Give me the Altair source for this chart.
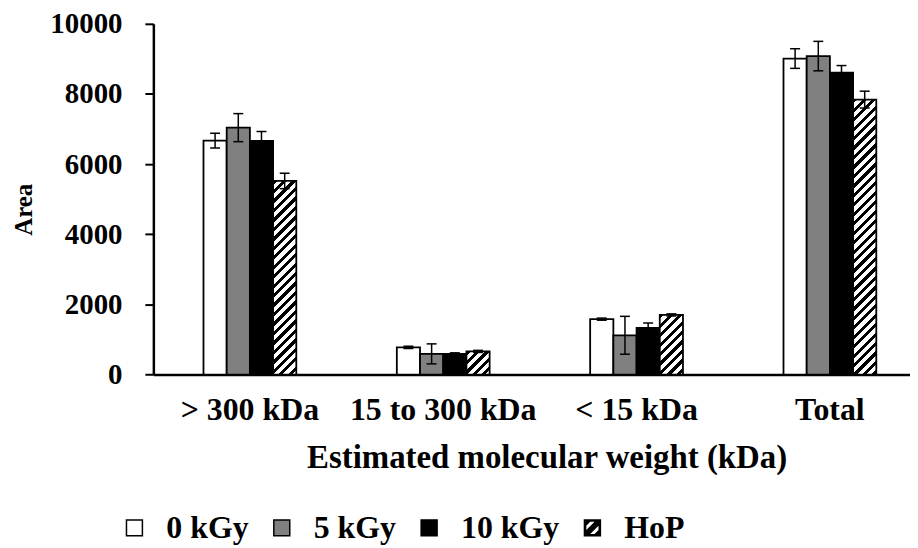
import altair as alt
import pandas as pd

# ---------------- data ----------------
categories = ["> 300 kDa", "15 to 300 kDa", "< 15 kDa", "Total"]
series = ["0 kGy", "5 kGy", "10 kGy", "HoP"]
values_0kGy = [6670, 775, 1580, 9010]
values_5kGy = [7040, 590, 1120, 9080]
values_10kGy = [6660, 590, 1330, 8610]
values_HoP = [5520, 660, 1700, 7840]
err_0kGy = [210, 30, 30, 280]
err_5kGy = [400, 285, 540, 420]
err_10kGy = [270, 30, 140, 200]
err_HoP = [220, 30, 30, 240]
y_ticks = [0, 2000, 4000, 6000, 8000, 10000]
series_fills = ["white", "#808080", "black"]          # solid series
legend_fills = ["white", "#808080", "black", "black"]

vals = [values_0kGy, values_5kGy, values_10kGy, values_HoP]
errs = [err_0kGy, err_5kGy, err_10kGy, err_HoP]
rows = []
for s, vs, es in zip(series, vals, errs):
    for c, v, e in zip(categories, vs, es):
        rows.append({"cat": c, "series": s, "value": v, "lo": v - e, "hi": v + e})
df = pd.DataFrame(rows)

# ---------------- geometry / style ----------------
W = 760
H = 352.3
YMAX = 10000
PI = 0.52
PO = 0.2168
ALIGN = 0.598
FONT = "Liberation Serif"

step = W / (4 - PI + 2 * PO)
bar_w = step * (1 - PI) / 4


def hatch(w, h, period=9.5, frac=0.45):
    L = w + h
    den = w * w + h * h
    x2 = w * L / den
    y2 = h * L / den
    stops = []
    pos = 0.0
    while pos < L - 1e-6:
        a = pos / L
        b = min(pos + frac * period, L) / L
        c = min(pos + period, L) / L
        stops += [
            {"offset": round(a, 5), "color": "black"},
            {"offset": round(b, 5), "color": "black"},
            {"offset": round(b, 5), "color": "white"},
            {"offset": round(c, 5), "color": "white"},
        ]
        pos += period
    return {"gradient": "linear", "x1": 0, "y1": 0, "x2": x2, "y2": y2, "stops": stops}


# legend symbol for the hatched series (coordinates in [-1, 1])
a, d, g = 0.86, 0.36, 0.55
hatch_path = (
    "M-1,-1L1,-1L1,1L-1,1Z"
    f"M{-a},{-a}L{-a},{a}L{a},{a}L{a},{-a}Z"
    f"M{a-d:.3f},{-a}L{a},{-a}L{a},{d-a:.3f}L{d-a:.3f},{a}L{-a},{a}L{-a},{a-d:.3f}Z"
    f"M{-a},{-a}L{-a+g:.3f},{-a}L{-a},{-a+g:.3f}Z"
    f"M{a},{a-g:.3f}L{a},{a}L{a-g:.3f},{a}Z"
)

x_enc = alt.X(
    "cat:N",
    sort=categories,
    scale=alt.Scale(domain=categories, paddingInner=PI, paddingOuter=PO, align=ALIGN),
    axis=alt.Axis(
        title="Estimated molecular weight (kDa)",
        labelAngle=0, labelLimit=400,
        labelFont=FONT, labelFontSize=32, labelFontWeight="bold", labelColor="black",
        labelBaseline="alphabetic", labelPadding=45,
        ticks=False, tickSize=0,
        domainColor="black", domainWidth=2.5,
        titleFont=FONT, titleFontSize=33, titleFontWeight="bold", titleColor="black",
        titleX=395, titleY=93, titleBaseline="alphabetic", titleAlign="center",
        grid=False,
    ),
)
xoff_enc = alt.XOffset("series:N", scale=alt.Scale(domain=series), sort=series)
y_scale = alt.Scale(domain=[0, YMAX], nice=False)
y_enc = alt.Y(
    "value:Q",
    scale=y_scale,
    axis=alt.Axis(
        title="Area",
        values=y_ticks, format="d",
        labelFont=FONT, labelFontSize=29, labelFontWeight="bold", labelColor="black",
        labelPadding=23,
        tickSize=8.5, tickWidth=2, tickColor="black",
        domainColor="black", domainWidth=2.5,
        titleFont=FONT, titleFontSize=25, titleFontWeight="bold", titleColor="black",
        titleAngle=270, titleX=-122, titleY=186.3, titleBaseline="alphabetic",
        titleAlign="center",
        grid=False,
    ),
)
y_plain = alt.Y("value:Q", scale=y_scale)

base = alt.Chart(df)

bar_layers = []
for i, (s, f) in enumerate(zip(series[:3], series_fills)):
    bar_layers.append(
        base.transform_filter(f"datum.series == '{s}'")
        .mark_bar(stroke="black", strokeWidth=1.8, fill=f)
        .encode(x=x_enc, xOffset=xoff_enc, y=y_enc if i == 0 else y_plain)
    )

hatch_layers = []
for c, v in zip(categories, values_HoP):
    h = v / YMAX * H
    hatch_layers.append(
        base.transform_filter(f"datum.series == 'HoP' && datum.cat == '{c}'")
        .mark_bar(stroke="black", strokeWidth=1.8, fill=hatch(bar_w, h))
        .encode(x=x_enc, xOffset=xoff_enc, y=y_plain)
    )

err_rule = base.mark_rule(color="black", strokeWidth=1.5).encode(
    x=x_enc, xOffset=xoff_enc,
    y=alt.Y("lo:Q", scale=y_scale), y2="hi:Q",
)
cap_lo = base.mark_tick(color="black", size=10, thickness=1.5, opacity=1).encode(
    x=x_enc, xOffset=xoff_enc, y=alt.Y("lo:Q", scale=y_scale),
)
cap_hi = base.mark_tick(color="black", size=10, thickness=1.5, opacity=1).encode(
    x=x_enc, xOffset=xoff_enc, y=alt.Y("hi:Q", scale=y_scale),
)

legend = alt.Legend(
    title=None, orient="none", legendX=-35, legendY=490.3, direction="horizontal",
    symbolSize=256, symbolStrokeColor="black", symbolStrokeWidth=1.5, symbolOpacity=1,
    labelFont=FONT, labelFontSize=32, labelFontWeight="bold", labelColor="black",
    labelOffset=16, columnPadding=17, padding=0, labelLimit=400,
)
# invisible points: only their legend (fill, outline and shape) is shown
legend_layer = base.mark_point(
    filled=True, opacity=0, size=256, strokeWidth=1.5
).encode(
    x=x_enc, xOffset=xoff_enc, y=y_plain,
    color=alt.Color("series:N", scale=alt.Scale(domain=series, range=legend_fills), legend=legend),
    stroke=alt.Stroke("series:N", scale=alt.Scale(domain=series, range=["black"] * 4), legend=legend),
    shape=alt.Shape(
        "series:N",
        scale=alt.Scale(domain=series, range=["square", "square", "square", hatch_path]),
        legend=legend,
    ),
)

chart = alt.layer(*bar_layers, *hatch_layers, err_rule, cap_lo, cap_hi, legend_layer).properties(
    width=W,
    height=H,
    autosize=alt.AutoSizeParams(type="none"),
    padding={"left": 146, "top": 14.7, "right": 0, "bottom": 170},
    background="white",
).configure_view(stroke=None)

chart.save("out.html", embed_options={"renderer": "svg", "actions": False})
